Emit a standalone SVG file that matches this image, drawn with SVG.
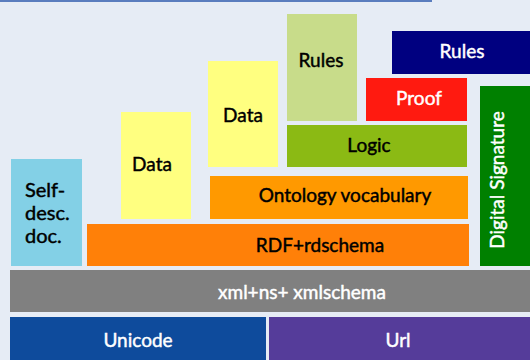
<svg xmlns="http://www.w3.org/2000/svg" width="530" height="360" viewBox="0 0 530 360">
<style>
text{font-family:Lato,"Open Sans","Liberation Sans",sans-serif;font-size:19px;text-anchor:middle;stroke-width:0.45px}
.d{fill:#000;stroke:#000}
.w{fill:#fff;stroke:#fff}
</style>
<rect width="530" height="360" fill="#E6ECF5"/>
<line x1="0" y1="1" x2="432" y2="1" stroke="#5A7DBE" stroke-width="2"/>
<g id="rules-logic">
<rect x="287" y="14" width="70" height="107" fill="#C8DC8A"/>
<text class="d" x="321" y="67">Rules</text>
</g>
<g id="rules-top">
<rect x="392" y="31" width="138" height="43" fill="#000080"/>
<text class="w" x="462" y="58">Rules</text>
</g>
<g id="proof">
<rect x="366" y="78" width="101" height="43" fill="#FF1A10"/>
<text class="w" x="419" y="105">Proof</text>
</g>
<g id="digital-signature">
<rect x="480" y="86" width="50" height="180" fill="#008000"/>
<text class="w" transform="translate(504 180) rotate(-90)">Digital Signature</text>
</g>
<g id="data-mid">
<rect x="208" y="61" width="70" height="106" fill="#FFFF80"/>
<text class="d" x="243" y="122">Data</text>
</g>
<g id="data-left">
<rect x="121" y="112" width="70" height="107" fill="#FFFF80"/>
<text class="d" x="152" y="171">Data</text>
</g>
<g id="logic">
<rect x="287" y="125" width="180" height="42" fill="#8BBA14"/>
<text class="d" x="369" y="152">Logic</text>
</g>
<g id="ontology">
<rect x="210" y="176" width="258" height="43" fill="#FF9900"/>
<text class="d" x="345" y="202">Ontology vocabulary</text>
</g>
<g id="self-desc">
<rect x="11" y="159" width="71" height="107" fill="#83D0E6"/>
<text class="d" style="text-anchor:start;font-size:20px" x="25"><tspan x="25" y="197">Self-</tspan><tspan x="25" y="220">desc.</tspan><tspan x="25" y="243">doc.</tspan></text>
</g>
<g id="rdf">
<rect x="87" y="224" width="382" height="42" fill="#FF8008"/>
<text class="d" x="320" y="252">RDF+rdschema</text>
</g>
<g id="xml">
<rect x="10" y="270" width="520" height="42" fill="#808080"/>
<text class="w" x="302" y="299">xml+ns+ xmlschema</text>
</g>
<g id="unicode">
<rect x="10" y="317" width="256" height="43" fill="#0E4B9C"/>
<text class="w" x="138" y="347">Unicode</text>
</g>
<g id="url">
<rect x="269" y="317" width="261" height="43" fill="#553C9A"/>
<text class="w" x="398" y="347">Url</text>
</g>
<g id="connectors"/>
</svg>
